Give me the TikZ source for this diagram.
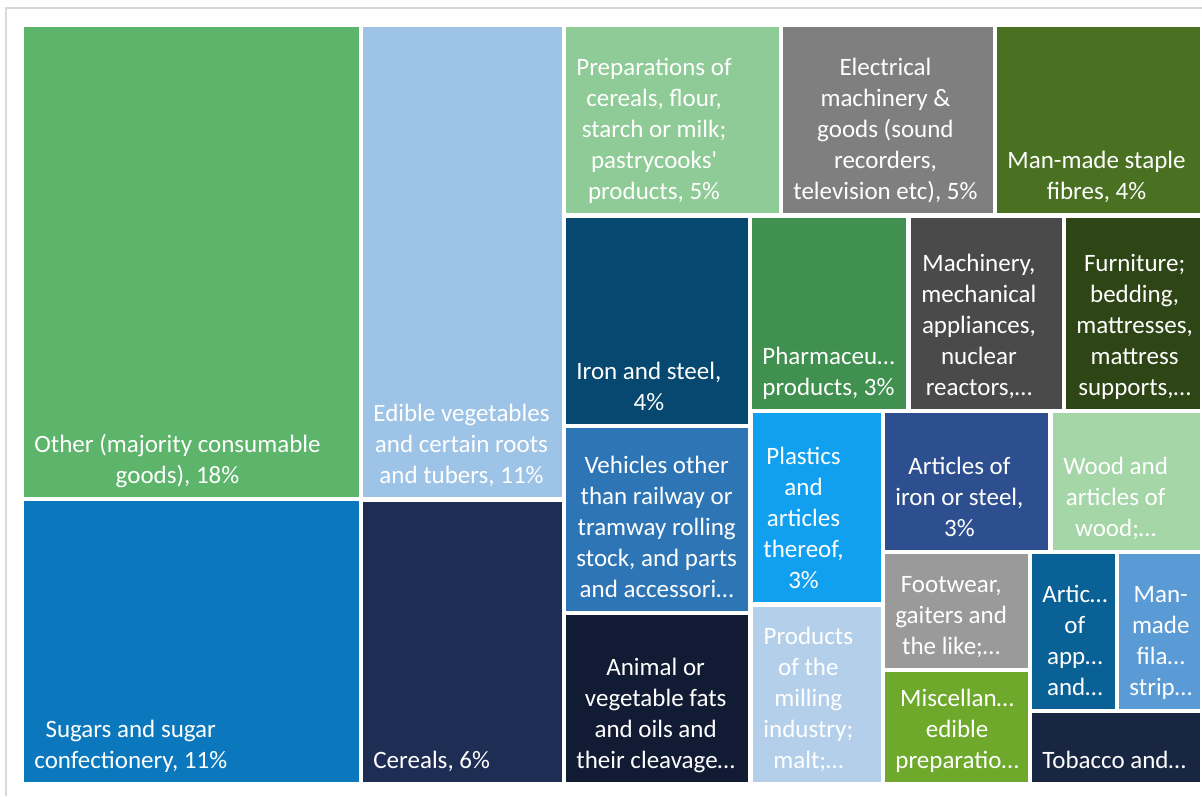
\documentclass[tikz,border=0pt]{standalone}
\usepackage{fontspec}
\setmainfont{Carlito}
\definecolor{cOther}{HTML}{5CB56A}
\definecolor{cEdible}{HTML}{9DC3E6}
\definecolor{cPrep}{HTML}{8ECB96}
\definecolor{cElec}{HTML}{7F7F7F}
\definecolor{cStaple}{HTML}{4A7121}
\definecolor{cSugar}{HTML}{0B78BD}
\definecolor{cCereal}{HTML}{1D2D53}
\definecolor{cIron}{HTML}{064870}
\definecolor{cPharma}{HTML}{40904F}
\definecolor{cMach}{HTML}{4A4A4A}
\definecolor{cFurn}{HTML}{2E4516}
\definecolor{cVeh}{HTML}{2E75B6}
\definecolor{cAnimal}{HTML}{111B33}
\definecolor{cPlast}{HTML}{11A0EF}
\definecolor{cMill}{HTML}{B4CFEA}
\definecolor{cArtIron}{HTML}{2E4F8F}
\definecolor{cWood}{HTML}{A5D6A7}
\definecolor{cFoot}{HTML}{9A9A9A}
\definecolor{cMisc}{HTML}{6EA92B}
\definecolor{cArtic}{HTML}{0A6196}
\definecolor{cFila}{HTML}{5B9BD5}
\definecolor{cTob}{HTML}{182642}
\definecolor{cFrame}{HTML}{D9D9D9}
\newcommand\tmbox[7]{%
  \fill[#2] (#3,#4) rectangle (#5,#6);
  \node[lbl] (#1) at ({#3+10},{#6-4}) {#7\strut};}
\begin{document}
\begin{tikzpicture}[x=0.5pt,y=-0.5pt,
  lbl/.style={anchor=south west, inner sep=0pt, align=center, text=white,
    font=\fontsize{12.5}{15.5}\selectfont}]
\useasboundingbox (0,0) rectangle (1202,796);
\fill[white] (0,0) rectangle (1202,796);
\draw[cFrame, line width=0.8pt] (6,796) -- (6,8) -- (1202,8);
\tmbox{other}{cOther}{24}{27}{359}{497}{Other (majority consumable\\goods), 18\%}
\tmbox{sugar}{cSugar}{24}{501}{359}{782}{Sugars and sugar\\confectionery, 11\%}
\tmbox{edible}{cEdible}{363}{27}{562}{497}{Edible vegetables\\and certain roots\\and tubers, 11\%}
\tmbox{cereal}{cCereal}{363}{502}{562}{782}{Cereals, 6\%}
\tmbox{prep}{cPrep}{566}{27}{779}{213}{Preparations of\\cereals, flour,\\starch or milk;\\pastrycooks\textquotesingle\\products, 5\%}
\tmbox{elec}{cElec}{783}{27}{993}{213}{Electrical\\machinery \&\\goods (sound\\recorders,\\television etc), 5\%}
\tmbox{staple}{cStaple}{997}{27}{1200}{213}{Man-made staple\\fibres, 4\%}
\tmbox{iron}{cIron}{566}{218}{748}{424}{Iron and steel,\\4\%}
\tmbox{pharma}{cPharma}{752}{218}{906}{409}{Pharmaceu…\\products, 3\%}
\tmbox{mach}{cMach}{911}{218}{1062}{409}{Machinery,\\mechanical\\appliances,\\nuclear\\reactors,…}
\tmbox{furn}{cFurn}{1066}{218}{1200}{409}{Furniture;\\bedding,\\mattresses,\\mattress\\supports,…}
\tmbox{veh}{cVeh}{566}{428}{748}{611}{Vehicles other\\than railway or\\tramway rolling\\stock, and parts\\and accessori…}
\tmbox{animal}{cAnimal}{566}{615}{748}{782}{Animal or\\vegetable fats\\and oils and\\their cleavage…}
\tmbox{plast}{cPlast}{753}{413}{881}{602}{Plastics\\and\\articles\\thereof,\\3\%}
\tmbox{mill}{cMill}{753}{607}{881}{782}{Products\\of the\\milling\\industry;\\malt;…}
\tmbox{artiron}{cArtIron}{885}{413}{1048}{550}{Articles of\\iron or steel,\\3\%}
\tmbox{wood}{cWood}{1053}{413}{1200}{550}{Wood and\\articles of\\wood;…}
\tmbox{foot}{cFoot}{885}{554}{1028}{668}{Footwear,\\gaiters and\\the like;…}
\tmbox{misc}{cMisc}{885}{672}{1028}{782}{Miscellan…\\edible\\preparatio…}
\tmbox{artic}{cArtic}{1032}{554}{1115}{709}{Artic…\\of\\app…\\and…}
\tmbox{fila}{cFila}{1119}{554}{1200}{709}{Man-\\made\\fila…\\strip…}
\tmbox{tob}{cTob}{1032}{713}{1200}{782}{Tobacco and…}
\end{tikzpicture}
\end{document}
